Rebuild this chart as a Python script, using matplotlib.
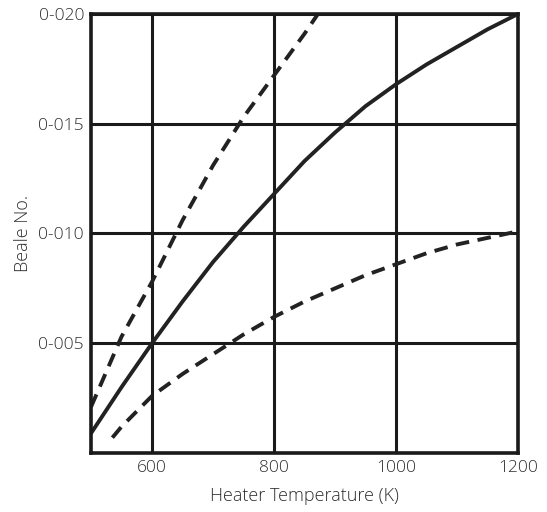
import matplotlib
matplotlib.use("Agg")
import matplotlib.pyplot as plt
from matplotlib.ticker import FuncFormatter

plt.rcParams['font.family'] = ['Open Sans', 'DejaVu Sans']

# curves
t_mid = [500, 550, 600, 650, 700, 750, 800, 850, 900, 950, 1000, 1050, 1100, 1150, 1200]
b_mid = [0.0009, 0.0030, 0.0050, 0.0069, 0.0087, 0.0103, 0.0118, 0.0133, 0.0146, 0.0158, 0.0168, 0.0177, 0.0185, 0.0193, 0.0200]

t_up = [500, 550, 600, 650, 700, 750, 800, 850, 872]
b_up = [0.0021, 0.0053, 0.0078, 0.0106, 0.0131, 0.0153, 0.0172, 0.0191, 0.0200]

t_low = [535, 550, 600, 650, 700, 750, 800, 850, 900, 950, 1000, 1050, 1100, 1150, 1200]
b_low = [0.0007, 0.0012, 0.0026, 0.0036, 0.0045, 0.0054, 0.0062, 0.0069, 0.0075, 0.0081, 0.0086, 0.0091, 0.0095, 0.0098, 0.0101]

x_ticks = [600, 800, 1000, 1200]
y_ticks = [0.005, 0.010, 0.015, 0.020]

fig = plt.figure(figsize=(5.47, 5.12), dpi=100)
ax = fig.add_axes([0.1664, 0.1152, 0.7806, 0.8575])

ax.plot(t_mid, b_mid, color='#222222', lw=2.8, solid_capstyle='round', solid_joinstyle='round')
ax.plot(t_up, b_up, color='#222222', lw=2.8, dashes=(3.5, 2.2))
ax.plot(t_low, b_low, color='#222222', lw=2.8, dashes=(3.5, 2.2))

ax.set_xlim(500, 1200)
ax.set_ylim(0, 0.020)
ax.set_xticks(x_ticks)
ax.set_yticks(y_ticks)
ax.yaxis.set_major_formatter(FuncFormatter(lambda v, p: ('%.3f' % v).replace('.', '-')))

ax.grid(True, color='#1a1a1a', lw=2.2)
for s in ax.spines.values():
    s.set_linewidth(2.6)
    s.set_color('#1a1a1a')
ax.tick_params(length=0, pad=5, labelsize=12.5, labelcolor='#2e2e2e')
for lab in ax.get_xticklabels() + ax.get_yticklabels():
    lab.set_fontweight('light')

ax.set_xlabel('Heater Temperature (K)', fontsize=13, color='#2e2e2e', labelpad=8, fontweight='light')
ax.set_ylabel('Beale No.', fontsize=13, color='#2e2e2e', labelpad=5, fontweight='light')

fig.savefig('out.png', dpi=100)
